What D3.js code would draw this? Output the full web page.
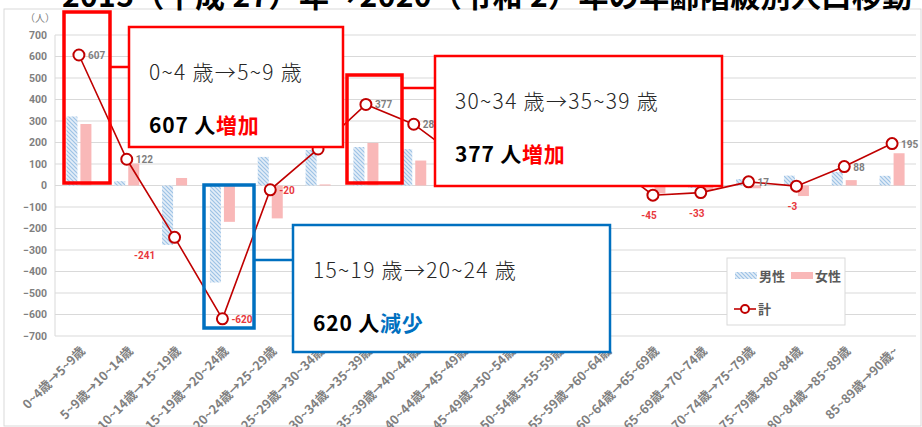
<!DOCTYPE html>
<html>
<head>
<meta charset="utf-8">
<script src="https://cdn.jsdelivr.net/npm/d3@7"></script>
<style>
  body { margin: 0; background: #fff; }
  text { font-family: "Noto Sans CJK JP", "Noto Sans", sans-serif; }
</style>
</head>
<body>
<div id="chart"></div>
<script>
// data
const categories = [
  "0~4歳→5~9歳", "5~9歳→10~14歳", "10~14歳→15~19歳", "15~19歳→20~24歳",
  "20~24歳→25~29歳", "25~29歳→30~34歳", "30~34歳→35~39歳", "35~39歳→40~44歳",
  "40~44歳→45~49歳", "45~49歳→50~54歳", "50~54歳→55~59歳", "55~59歳→60~64歳",
  "60~64歳→65~69歳", "65~69歳→70~74歳", "70~74歳→75~79歳", "75~79歳→80~84歳",
  "80~84歳→85~89歳", "85~89歳→90歳~"
];
const male   = [321, 20, -276, -451, 133, 165, 179, 169, 70, 35, 50, 60, -8, -12, 30, 46, 63, 45];
const female = [286, 102, 35, -169, -153, 5, 198, 116, 50, 25, 40, 65, -37, -21, -13, -49, 25, 150];
const total  = [607, 122, -241, -620, -20, 170, 377, 285, 120, 60, 90, 125, -45, -33, 17, -3, 88, 195];
const yTicks = d3.range(-700, 701, 100);

// label placement for each point: r = right, ra = right above, b = below, bl = below left
const labelPos = ["r", "r", "bl", "r", "r", "ra", "r", "r", "r", "r", "r", "r", "b", "b", "r", "b", "r", "r"];

const svgWidth = 922;
const svgHeight = 427;
const plot = { left: 55, right: 916, top: 35, bottom: 336 };

const svg = d3.select("#chart")
  .append("svg")
  .attr("width", svgWidth)
  .attr("height", svgHeight);

const defs = svg.append("defs");
const hatch = defs.append("pattern")
  .attr("id", "hatch")
  .attr("patternUnits", "userSpaceOnUse")
  .attr("width", 4)
  .attr("height", 4);
hatch.append("rect").attr("width", 4).attr("height", 4).attr("fill", "#e4eef8");
hatch.append("path")
  .attr("d", "M-1,-1 L5,5 M-1,3 L1,5 M3,-1 L5,1")
  .attr("stroke", "#9dc3e6")
  .attr("stroke-width", 1.2);

// outer chart frame
svg.append("rect")
  .attr("x", 4).attr("y", 9)
  .attr("width", 917).attr("height", 417)
  .attr("fill", "#fff")
  .attr("stroke", "#d9d9d9");

// title (cut off at the top in the original)
svg.append("text")
  .attr("x", 62)
  .attr("y", 7)
  .attr("font-size", 30)
  .attr("font-weight", 700)
  .attr("fill", "#000")
  .attr("textLength", 850)
  .attr("lengthAdjust", "spacing")
  .text("2015（平成 27）年→2020（令和 2）年の年齢階級別人口移動");

const x = d3.scaleBand()
  .domain(categories)
  .range([plot.left, plot.right]);

const y = d3.scaleLinear()
  .domain([-700, 700])
  .range([plot.bottom, plot.top]);

// grid
svg.append("g")
  .selectAll("line")
  .data(yTicks)
  .join("line")
  .attr("x1", plot.left)
  .attr("x2", plot.right)
  .attr("y1", d => y(d))
  .attr("y2", d => y(d))
  .attr("stroke", "#d9d9d9")
  .attr("stroke-width", 1);

svg.append("line")
  .attr("x1", plot.left).attr("x2", plot.left)
  .attr("y1", plot.top).attr("y2", plot.bottom)
  .attr("stroke", "#d9d9d9");

// y axis
const yAxis = svg.append("g")
  .attr("transform", `translate(${plot.left},0)`)
  .call(d3.axisLeft(y).tickValues(yTicks).tickSize(0).tickPadding(8));
yAxis.select(".domain").remove();
yAxis.selectAll("text")
  .attr("font-size", 10.5)
  .attr("font-weight", 700)
  .attr("fill", "#7f7f7f")
  .style("font-family", "Roboto, 'Noto Sans', sans-serif");

svg.append("text")
  .attr("x", 40)
  .attr("y", 22)
  .attr("text-anchor", "middle")
  .attr("font-size", 10)
  .attr("fill", "#7f7f7f")
  .text("（人）");

// x axis labels
const xAxis = svg.append("g")
  .attr("transform", `translate(0,${plot.bottom})`)
  .call(d3.axisBottom(x).tickSize(0).tickPadding(0));
xAxis.select(".domain").remove();
xAxis.selectAll("text")
  .attr("text-anchor", "end")
  .attr("font-size", 12.5)
  .attr("font-weight", 700)
  .attr("fill", "#7f7f7f")
  .attr("dy", 0)
  .attr("y", 0)
  .attr("transform", "translate(7,16) rotate(-45)");

// bars
const bw = 11;
svg.append("g")
  .selectAll("rect")
  .data(male)
  .join("rect")
  .attr("x", (d, i) => x(categories[i]) + x.bandwidth() / 2 - 1.5 - bw)
  .attr("y", d => y(Math.max(0, d)))
  .attr("width", bw)
  .attr("height", d => Math.abs(y(d) - y(0)))
  .attr("fill", "url(#hatch)");

svg.append("g")
  .selectAll("rect")
  .data(female)
  .join("rect")
  .attr("x", (d, i) => x(categories[i]) + x.bandwidth() / 2 + 1.5)
  .attr("y", d => y(Math.max(0, d)))
  .attr("width", bw)
  .attr("height", d => Math.abs(y(d) - y(0)))
  .attr("fill", "#f9b8b8");

// total line
const cx = i => x(categories[i]) + x.bandwidth() / 2;
const line = d3.line()
  .x((d, i) => cx(i))
  .y(d => y(d));

svg.append("path")
  .datum(total)
  .attr("d", line)
  .attr("fill", "none")
  .attr("stroke", "#c00000")
  .attr("stroke-width", 1.6);

svg.append("g")
  .selectAll("circle")
  .data(total)
  .join("circle")
  .attr("cx", (d, i) => cx(i))
  .attr("cy", d => y(d))
  .attr("r", 5.5)
  .attr("fill", "#fff")
  .attr("stroke", "#c00000")
  .attr("stroke-width", 2);

// data labels
const lx = (i) => {
  const p = labelPos[i];
  if (p === "r" || p === "ra") return cx(i) + 9;
  if (p === "bl") return cx(i) - 30;
  return cx(i) - 4;
};
const ly = (d, i) => {
  const p = labelPos[i];
  if (p === "r") return y(d) + 4;
  if (p === "ra") return y(d) - 4;
  if (p === "bl") return y(d) + 22;
  return y(d) + 24;
};
svg.append("g")
  .selectAll("text")
  .data(total)
  .join("text")
  .attr("x", (d, i) => lx(i))
  .attr("y", (d, i) => ly(d, i))
  .attr("text-anchor", (d, i) => labelPos[i].startsWith("r") ? "start" : "middle")
  .attr("font-size", 10)
  .attr("font-weight", 700)
  .attr("fill", d => d < 0 ? "#e8383d" : "#7f7f7f")
  .style("font-family", "Roboto, 'Noto Sans', sans-serif")
  .text(d => d);

// legend
const legend = svg.append("g").attr("transform", "translate(727,258)");
legend.append("rect")
  .attr("width", 118).attr("height", 67)
  .attr("fill", "#fff")
  .attr("stroke", "#d9d9d9");
legend.append("rect").attr("x", 8).attr("y", 14).attr("width", 22).attr("height", 7).attr("fill", "url(#hatch)");
legend.append("text").attr("x", 32).attr("y", 23).attr("font-size", 13).attr("font-weight", 700).attr("fill", "#595959").text("男性");
legend.append("rect").attr("x", 64).attr("y", 14).attr("width", 22).attr("height", 7).attr("fill", "#f9b8b8");
legend.append("text").attr("x", 88).attr("y", 23).attr("font-size", 13).attr("font-weight", 700).attr("fill", "#595959").text("女性");
legend.append("line").attr("x1", 7).attr("x2", 29).attr("y1", 51).attr("y2", 51).attr("stroke", "#c00000").attr("stroke-width", 1.6);
legend.append("circle").attr("cx", 18).attr("cy", 51).attr("r", 4).attr("fill", "#fff").attr("stroke", "#c00000").attr("stroke-width", 2);
legend.append("text").attr("x", 31).attr("y", 56).attr("font-size", 13).attr("font-weight", 700).attr("fill", "#595959").text("計");

// callouts
function callout(o) {
  const g = svg.append("g");
  // highlight around the category
  g.append("rect")
    .attr("x", o.hx).attr("y", o.hy)
    .attr("width", o.hw).attr("height", o.hh)
    .attr("fill", "none")
    .attr("stroke", o.color)
    .attr("stroke-width", 3.5);
  g.append("line")
    .attr("x1", o.hx + o.hw).attr("x2", o.bx)
    .attr("y1", o.ly).attr("y2", o.ly)
    .attr("stroke", o.color)
    .attr("stroke-width", 2.5);
  g.append("rect")
    .attr("x", o.bx).attr("y", o.by)
    .attr("width", o.bw).attr("height", o.bh)
    .attr("fill", "#fff")
    .attr("stroke", o.color)
    .attr("stroke-width", 2.5);
  g.append("text")
    .attr("x", o.bx + 20).attr("y", o.by + 53)
    .attr("font-size", 21)
    .attr("font-weight", 300)
    .attr("letter-spacing", 1.3)
    .attr("fill", "#262626")
    .text(o.line1);
  const t = g.append("text")
    .attr("x", o.bx + 20).attr("y", o.by + 106)
    .attr("font-size", 21)
    .attr("font-weight", 700)
    .attr("letter-spacing", 0.8)
    .attr("fill", "#000");
  t.append("tspan").text(o.num + " 人");
  t.append("tspan").attr("fill", o.wordColor).text(o.word);
}

callout({ hx: 64, hy: 12, hw: 46, hh: 171, ly: 67, bx: 129, by: 27, bw: 214, bh: 120,
  color: "#ff0000", wordColor: "#ff0000", line1: "0~4 歳→5~9 歳", num: total[0], word: "増加" });
callout({ hx: 347, hy: 75, hw: 55, hh: 108, ly: 88, bx: 435, by: 56, bw: 287, bh: 130,
  color: "#ff0000", wordColor: "#ff0000", line1: "30~34 歳→35~39 歳", num: total[6], word: "増加" });
callout({ hx: 204, hy: 185, hw: 50, hh: 143, ly: 260, bx: 293, by: 225, bw: 317, bh: 127,
  color: "#0070c0", wordColor: "#0070c0", line1: "15~19 歳→20~24 歳", num: -total[3], word: "減少" });
</script>
</body>
</html>
